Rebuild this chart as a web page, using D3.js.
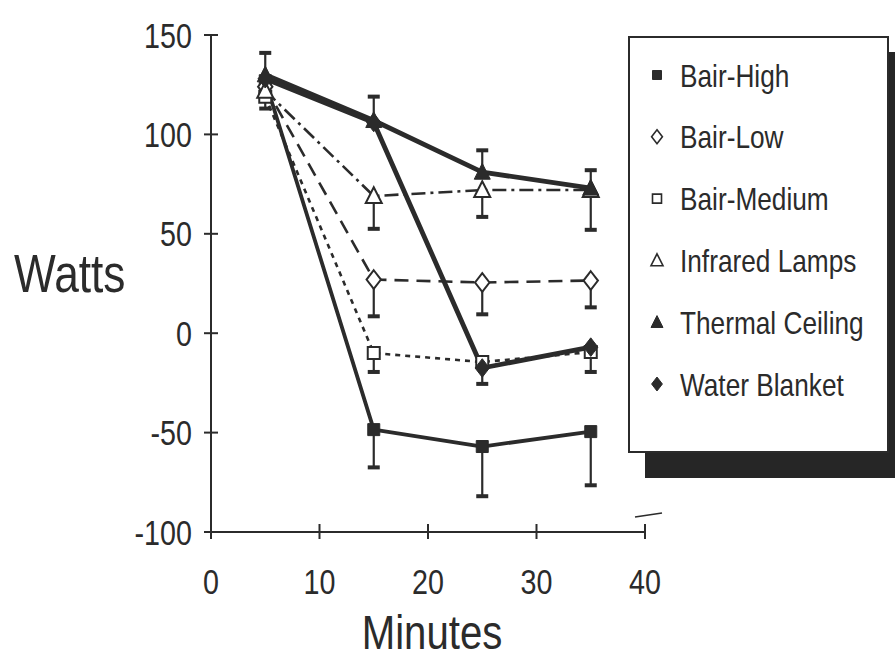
<!DOCTYPE html>
<html>
<head>
<meta charset="utf-8">
<script src="https://cdn.jsdelivr.net/npm/d3@7"></script>
<style>
  html, body { margin: 0; padding: 0; background: #fff; }
  svg { display: block; }
  .narrow { font-family: "Liberation Sans", Arial, sans-serif; fill: #2b2b2b; }
</style>
</head>
<body>
<svg id="chart" width="895" height="660"></svg>
<script>
// time points (minutes)
const minutes = [5, 15, 25, 35];

// mean watts per series
const bairHigh       = [127, -48.5, -57, -49.5];
const bairLow        = [124, 27, 25.5, 26.5];
const bairMedium     = [119, -10, -14.5, -9.5];
const infraredLamps  = [122, 69, 72, 72];
const thermalCeiling = [130, 107, 81, 73];
const waterBlanket   = [128, 106, -17.5, -7];

// error bar extents (watts above / below the mean, 0 = none drawn)
const bairHighUp       = [0, 0, 0, 0];
const bairHighDown     = [0, 19, 25, 27];
const bairLowUp        = [0, 0, 0, 0];
const bairLowDown      = [0, 18.5, 16, 13.5];
const bairMediumUp     = [0, 0, 0, 0];
const bairMediumDown   = [6, 9.5, 0, 10];
const infraredUp       = [0, 0, 0, 0];
const infraredDown     = [0, 16.5, 13.5, 20];
const thermalUp        = [11, 12, 11, 9];
const thermalDown      = [0, 0, 0, 0];
const waterUp          = [0, 0, 0, 0];
const waterDown        = [0, 0, 8, 0];

const xTicks = [0, 10, 20, 30, 40];
const yTicks = [-100, -50, 0, 50, 100, 150];

const ink = '#2b2b2b';
const squeeze = 0.82; // the print uses a condensed face

// series table built from the arrays above
const series = [
  { name: 'Bair-High',       values: bairHigh,       up: bairHighUp,   down: bairHighDown,   symbol: 'square',   filled: true,  width: 3.8, dash: null },
  { name: 'Bair-Low',        values: bairLow,        up: bairLowUp,    down: bairLowDown,    symbol: 'diamond',  filled: false, width: 2.6, dash: '14,8' },
  { name: 'Bair-Medium',     values: bairMedium,     up: bairMediumUp, down: bairMediumDown, symbol: 'square',   filled: false, width: 2.6, dash: '5,5' },
  { name: 'Infrared Lamps',  values: infraredLamps,  up: infraredUp,   down: infraredDown,   symbol: 'triangle', filled: false, width: 2.6, dash: '14,5,3,5' },
  { name: 'Thermal Ceiling', values: thermalCeiling, up: thermalUp,    down: thermalDown,    symbol: 'triangle', filled: true,  width: 4.8, dash: null },
  { name: 'Water Blanket',   values: waterBlanket,   up: waterUp,      down: waterDown,      symbol: 'diamond',  filled: true,  width: 4.8, dash: null }
];

const svg = d3.select('#chart');

const x = d3.scaleLinear().domain([0, 40]).range([211, 645]);
const y = d3.scaleLinear().domain([-100, 150]).range([532, 35]);

// symbol path for a marker
function markerPath(kind, s) {
  if (kind === 'square') {
    return `M${-s/2},${-s/2}h${s}v${s}h${-s}Z`;
  }
  if (kind === 'diamond') {
    const w = s * 0.45, h = s * 0.58;
    return `M0,${-h}L${w},0L0,${h}L${-w},0Z`;
  }
  // triangle
  const h = s * 0.55;
  return `M0,${-h}L${s*0.5},${h*0.8}L${-s*0.5},${h*0.8}Z`;
}

// place a condensed text at (px, py)
function placeText(sel, px, py) {
  sel.attr('transform', (d, i) => {
    const tx = typeof px === 'function' ? px(d, i) : px;
    const ty = typeof py === 'function' ? py(d, i) : py;
    return `translate(${tx},${ty}) scale(${squeeze},1)`;
  });
}

// axes
const axes = svg.append('g').attr('stroke', ink).attr('stroke-width', 2).attr('fill', 'none');

axes.append('line')
  .attr('x1', x(0)).attr('x2', x(0))
  .attr('y1', y(150)).attr('y2', y(-100));
axes.append('line')
  .attr('x1', x(0) - 2).attr('x2', x(40))
  .attr('y1', y(-100)).attr('y2', y(-100));

axes.selectAll('.ytick')
  .data(yTicks)
  .join('line')
  .attr('class', 'ytick')
  .attr('x1', x(0) - 7).attr('x2', x(0) + 7)
  .attr('y1', d => y(d)).attr('y2', d => y(d));

axes.selectAll('.xtick')
  .data(xTicks)
  .join('line')
  .attr('class', 'xtick')
  .attr('x1', d => x(d)).attr('x2', d => x(d))
  .attr('y1', y(-100) - 8).attr('y2', y(-100) + 7);

// small stray pen mark by the 40 tick
axes.append('path')
  .attr('stroke-width', 1.5)
  .attr('d', `M${x(40) - 10},${y(-100) - 15}L${x(40) + 17},${y(-100) - 19}`);

svg.selectAll('.ylabel')
  .data(yTicks)
  .join('text')
  .attr('class', 'ylabel narrow')
  .attr('dy', '0.36em')
  .attr('text-anchor', 'end')
  .attr('font-size', 35)
  .text(d => d)
  .call(placeText, 192, d => y(d));

svg.selectAll('.xlabel')
  .data(xTicks)
  .join('text')
  .attr('class', 'xlabel narrow')
  .attr('text-anchor', 'middle')
  .attr('font-size', 35)
  .text(d => d)
  .call(placeText, d => x(d), 594);

svg.append('text')
  .attr('class', 'narrow')
  .attr('text-anchor', 'middle')
  .attr('font-size', 49)
  .text('Minutes')
  .call(placeText, 432, 649);

svg.append('text')
  .attr('class', 'narrow')
  .attr('font-size', 54)
  .text('Watts')
  .call(placeText, 14, 292);

// lines
const line = d3.line()
  .x((d, i) => x(minutes[i]))
  .y(d => y(d));

const plot = svg.append('g');

plot.selectAll('.series')
  .data(series)
  .join('path')
  .attr('class', 'series')
  .attr('fill', 'none')
  .attr('stroke', ink)
  .attr('stroke-width', d => d.width)
  .attr('stroke-dasharray', d => d.dash)
  .attr('stroke-linejoin', 'round')
  .attr('d', d => line(d.values));

// error bars
const bars = [];
series.forEach(s => {
  s.values.forEach((v, i) => {
    if (s.up[i] > 0) bars.push({ t: minutes[i], from: v, to: v + s.up[i] });
    if (s.down[i] > 0) bars.push({ t: minutes[i], from: v, to: v - s.down[i] });
  });
});

const eb = plot.selectAll('.err')
  .data(bars)
  .join('g')
  .attr('class', 'err');

eb.append('line')
  .attr('x1', d => x(d.t)).attr('x2', d => x(d.t))
  .attr('y1', d => y(d.from)).attr('y2', d => y(d.to))
  .attr('stroke', ink).attr('stroke-width', 2.2);

eb.append('rect')
  .attr('x', d => x(d.t) - 6)
  .attr('y', d => y(d.to) - 2)
  .attr('width', 12).attr('height', 4)
  .attr('fill', ink);

// markers
const points = [];
series.forEach(s => {
  s.values.forEach((v, i) => points.push({ s, t: minutes[i], v }));
});

plot.selectAll('.marker')
  .data(points)
  .join('path')
  .attr('class', 'marker')
  .attr('transform', d => `translate(${x(d.t)},${y(d.v)})`)
  .attr('d', d => markerPath(d.s.symbol, d.s.symbol === 'square' ? 12 : 16))
  .attr('fill', d => d.s.filled ? ink : '#fff')
  .attr('stroke', ink)
  .attr('stroke-width', d => d.s.filled ? 1 : 2);

// legend
const legend = svg.append('g');

legend.append('rect')
  .attr('x', 645).attr('y', 52)
  .attr('width', 250).attr('height', 426)
  .attr('fill', '#262626');

legend.append('rect')
  .attr('x', 629).attr('y', 37)
  .attr('width', 259).attr('height', 415)
  .attr('fill', '#fff')
  .attr('stroke', ink)
  .attr('stroke-width', 2);

const rowY = d3.scalePoint()
  .domain(series.map(s => s.name))
  .range([75, 384]);

const row = legend.selectAll('.row')
  .data(series)
  .join('g')
  .attr('class', 'row')
  .attr('transform', d => `translate(657,${rowY(d.name)})`);

row.append('path')
  .attr('d', d => markerPath(d.symbol, d.symbol === 'square' ? 9 : 12))
  .attr('fill', d => d.filled ? ink : '#fff')
  .attr('stroke', ink)
  .attr('stroke-width', d => d.filled ? 1 : 1.6);

row.append('text')
  .attr('class', 'narrow')
  .attr('dy', '0.36em')
  .attr('font-size', 32)
  .text(d => d.name)
  .call(placeText, 23, 0);
</script>
</body>
</html>
